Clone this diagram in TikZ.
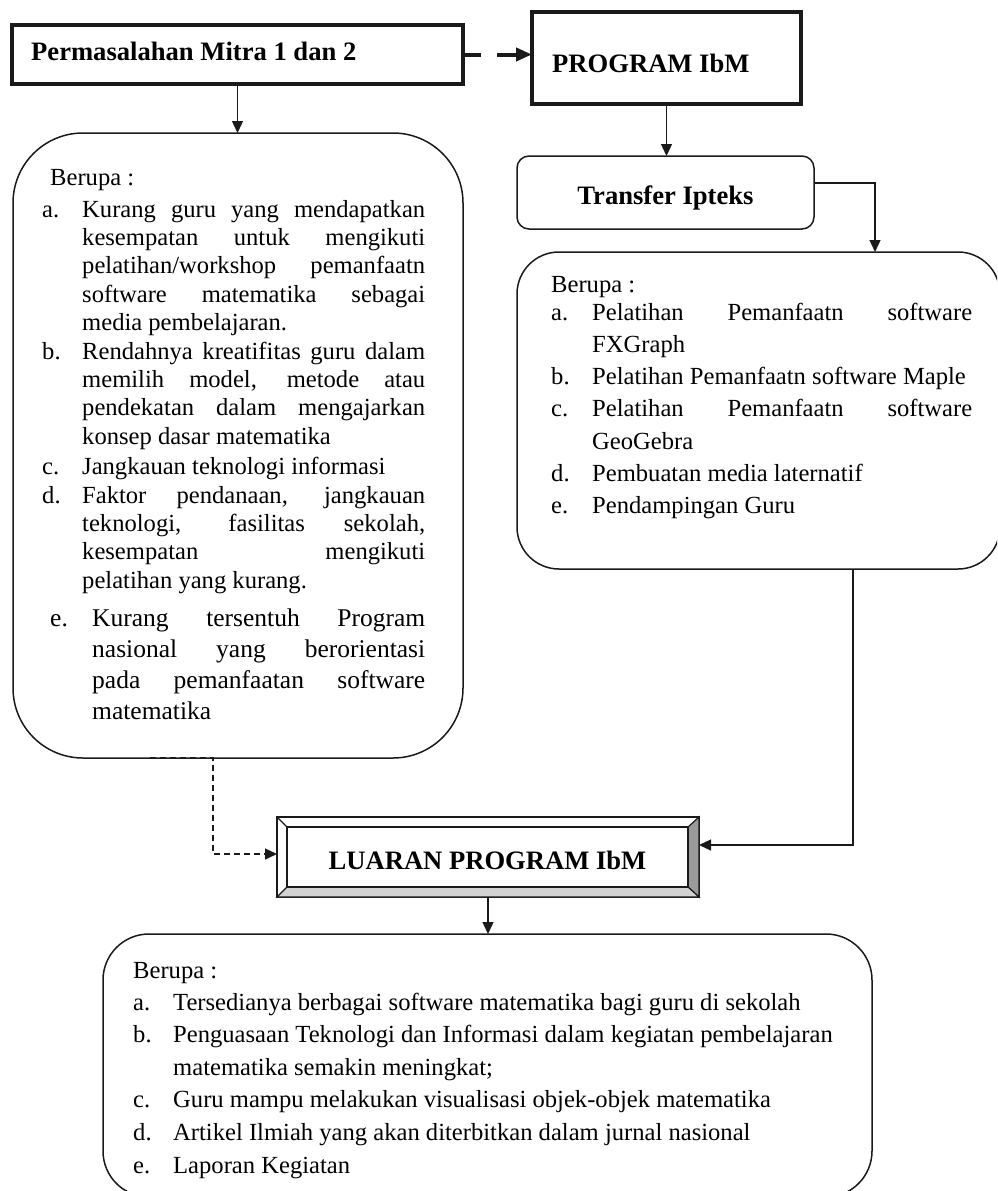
\documentclass[tikz,border=0pt]{standalone}
\usepackage{fontspec}
\setmainfont{Liberation Serif}
\usetikzlibrary{arrows.meta,calc}
\newlength\Lwd
\newlength\Twd
\newcommand\itJ[2]{\noindent\makebox[\Lwd][l]{#1}\makebox[\Twd][s]{#2}\par}
\newcommand\itP[2]{\noindent\makebox[\Lwd][l]{#1}#2\par}
\newcommand\cnJ[1]{\noindent\hspace*{\Lwd}\makebox[\Twd][s]{#1}\par}
\newcommand\cnP[1]{\noindent\hspace*{\Lwd}#1\par}
\definecolor{bevdark}{HTML}{9A9A9A}
\definecolor{bevlight}{HTML}{D2D2D2}
\definecolor{ink}{HTML}{1A1A1A}
\tikzset{
  thickbox/.style={draw=ink, line width=3.3pt, fill=white, inner sep=0pt, outer sep=0pt},
  roundbox/.style={draw=ink, line width=1.5pt, inner sep=0pt, outer sep=0pt},
  btext/.style={inner sep=0pt, font=\fontsize{26.6}{30}\selectfont\bfseries},
  ptext/.style={inner sep=0pt, anchor=base west},
  conn/.style={draw=ink, line width=1.3pt, -{Triangle[length=12pt,width=11pt]}},
  dconn/.style={draw=ink, line width=1.3pt, dash pattern=on 6pt off 4pt, -{Triangle[length=12pt,width=11pt]}},
  tconn/.style={draw=ink, line width=4pt, dash pattern=on 18pt off 16pt on 80pt off 0pt, -{Triangle[length=16pt,width=13pt]}},
  bevel/.style={draw=ink, line width=1.2pt}
}
\begin{document}
\begin{tikzpicture}[x=1pt,y=-1pt]
\path[use as bounding box] (0,0) rectangle (997,1191);
\clip (0,0) rectangle (997,1191);

% boxes
\node[thickbox, minimum width=451pt, minimum height=59pt] (perm) at (237.5,54.5) {};
\node[thickbox, minimum width=269pt, minimum height=92pt] (prog) at (666.5,58) {};
\node[roundbox, rounded corners=12pt, minimum width=297pt, minimum height=73pt] (trans) at (665.5,192.5) {};
\node[roundbox, rounded corners=70pt, minimum width=450pt, minimum height=625pt] (leftb) at (238,445.5) {};
\node[roundbox, rounded corners=42pt, minimum width=483pt, minimum height=317pt] (rightb) at (758.5,410.5) {};
\node[roundbox, rounded corners=46pt, minimum width=769pt, minimum height=263pt] (botb) at (487.5,1065.5) {};

% LUARAN bevel box
\node[draw=ink, line width=1.2pt, fill=white, inner sep=0pt, outer sep=0pt, minimum width=422pt, minimum height=80pt] (luar) at (488,857) {};
\node[inner sep=0pt, outer sep=0pt, minimum width=401pt, minimum height=60pt] (luarIn) at (487.5,857) {};
\filldraw[bevel, fill=bevdark] (luarIn.north east) -- (luar.north east) -- (luar.south east) -- (luarIn.south east) -- cycle;
\filldraw[bevel, fill=bevlight] (luarIn.south west) -- (luarIn.south east) -- (luar.south east) -- (luar.south west) -- cycle;
\draw[bevel] (luar.north west) -- (luarIn.north west);
\draw[draw=ink, line width=1.6pt] (luarIn.north west) rectangle (luarIn.south east);

% titles
\node[btext, anchor=base west] (permT) at (31,60) {Permasalahan Mitra 1 dan 2};
\node[btext, anchor=base west] (progT) at (552,72) {PROGRAM IbM};
\node[btext, anchor=base] (transT) at (665.5,204) {Transfer Ipteks};
\node[btext, anchor=base] (luarT) at (487.5,869) {LUARAN PROGRAM IbM};

% left box text
\node[ptext] (leftT) at (42,185) {\begin{minipage}[t]{420pt}\fontsize{24.6}{28.4}\selectfont
\setlength\Lwd{40pt}\setlength\Twd{343pt}%
\noindent\hspace*{8pt}Berupa :\par
\vspace{3.6pt}
\itJ{a.}{Kurang guru yang mendapatkan}
\cnJ{kesempatan untuk mengikuti}
\cnJ{pelatihan/workshop pemanfaatn}
\cnJ{software matematika sebagai}
\cnP{media pembelajaran.}
\itJ{b.}{Rendahnya kreatifitas guru dalam}
\cnJ{memilih model, metode atau}
\cnJ{pendekatan dalam mengajarkan}
\cnP{konsep dasar matematika}
\vspace{1.4pt}
\itP{c.}{Jangkauan teknologi informasi}
\vspace{0.6pt}
\itJ{d.}{Faktor pendanaan, jangkauan}
\cnJ{teknologi, fasilitas sekolah,}
\cnJ{kesempatan mengikuti}
\cnP{pelatihan yang kurang.}
\fontsize{25.5}{30.7}\selectfont
\setlength\Lwd{50pt}\setlength\Twd{333pt}%
\vspace{8pt}
\itJ{\hspace*{8pt}e.}{Kurang tersentuh Program}
\cnJ{nasional yang berorientasi}
\cnJ{pada pemanfaatan software}
\cnP{matematika}
\end{minipage}};

% right box text
\node[ptext] (rightT) at (551,292) {\begin{minipage}[t]{440pt}\fontsize{24.6}{32.3}\selectfont
\setlength\Lwd{41pt}\setlength\Twd{380pt}%
\noindent Berupa :\par
\vspace{-4.3pt}
\itJ{a.}{Pelatihan Pemanfaatn software}
\cnP{FXGraph}
\itP{b.}{Pelatihan Pemanfaatn software Maple}
\itJ{c.}{Pelatihan Pemanfaatn software}
\cnP{GeoGebra}
\itP{d.}{Pembuatan media laternatif}
\itP{e.}{Pendampingan Guru}
\end{minipage}};

% bottom box text
\node[ptext] (botT) at (133,978) {\begin{minipage}[t]{760pt}\fontsize{24.6}{32.6}\selectfont
\setlength\Lwd{40pt}%
\noindent Berupa :\par
\vspace{-0.6pt}
\itP{a.}{Tersedianya berbagai software matematika bagi guru di sekolah}
\itP{b.}{Penguasaan Teknologi dan Informasi dalam kegiatan pembelajaran}
\cnP{matematika semakin meningkat;}
\itP{c.}{Guru mampu melakukan visualisasi objek-objek matematika}
\itP{d.}{Artikel Ilmiah yang akan diterbitkan dalam jurnal nasional}
\itP{e.}{Laporan Kegiatan}
\end{minipage}};

% connectors
\coordinate (tr1) at (875,183);
\coordinate (rb1) at (853,845);
\coordinate (lb0) at (150,758);
\coordinate (lb1) at (213,854);
\draw[tconn] (perm.east) -- (perm.east -| prog.west);
\draw[conn] (perm.south) -- (perm.south |- leftb.north);
\draw[conn] (prog.south) -- (prog.south |- trans.north);
\draw[conn] (trans.east |- tr1) -- (tr1) -- (tr1 |- rightb.north);
\draw[conn] (rb1 |- rightb.south) -- (rb1) -- (rb1 -| luar.east);
\draw[dconn] (lb0 |- leftb.south) -- (lb1 |- leftb.south) -- (lb1) -- (lb1 -| luar.west);
\draw[conn] (luar.south) -- (luar.south |- botb.north);
\end{tikzpicture}
\end{document}
